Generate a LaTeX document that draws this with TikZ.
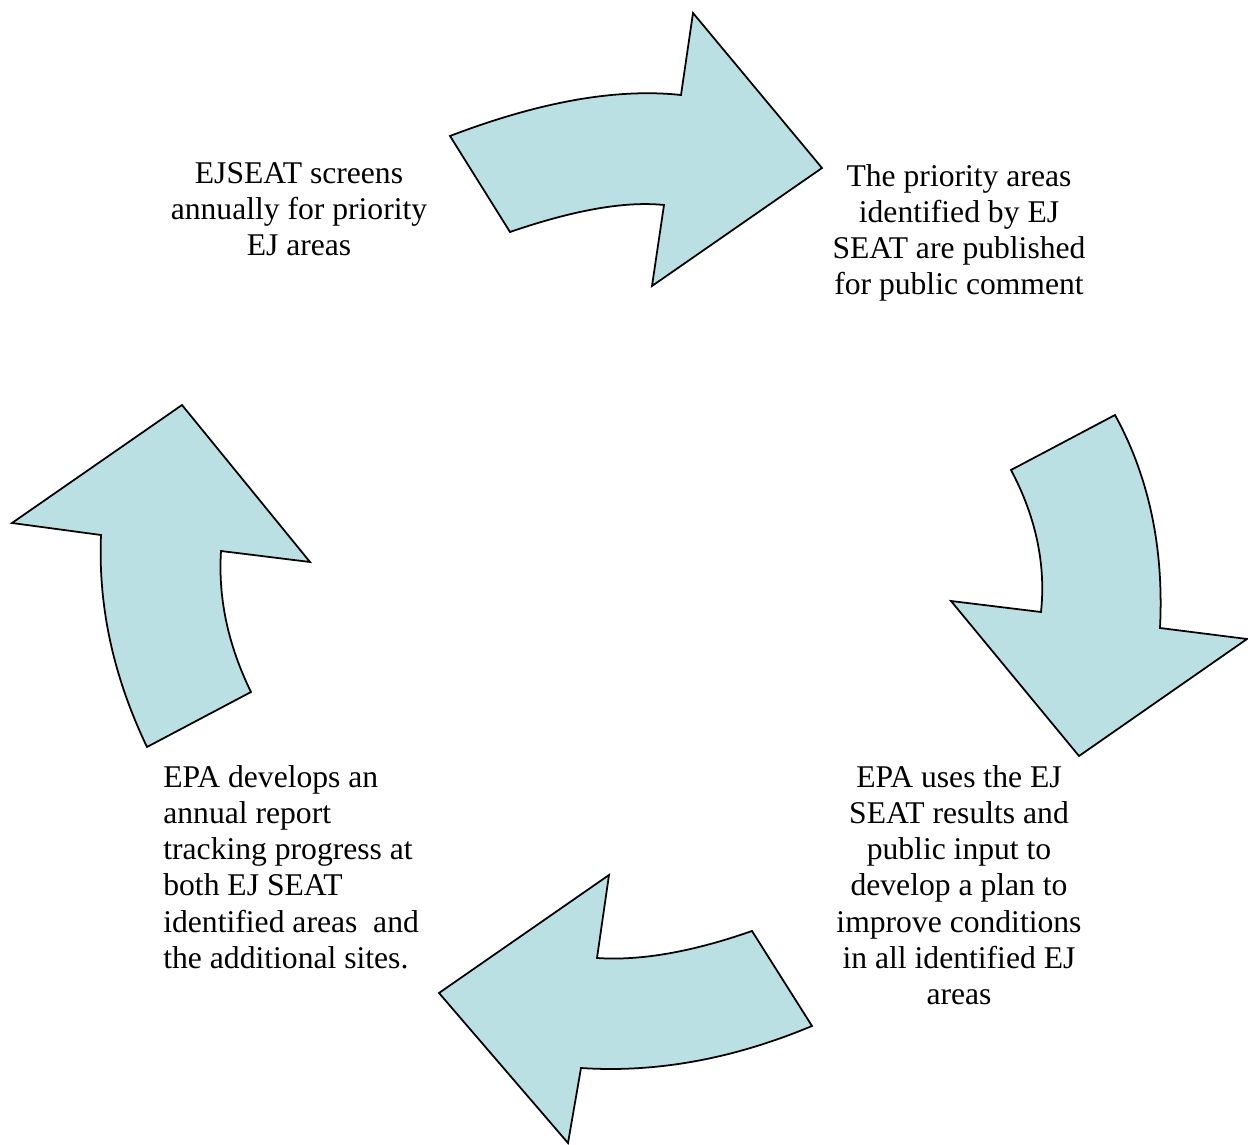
\documentclass[tikz,border=0pt]{standalone}
\usepackage{fontspec}
\setmainfont{Liberation Serif}
\definecolor{paleblue}{RGB}{187,224,227}
\begin{document}
\begin{tikzpicture}[x=0.02cm,y=-0.02cm,
  cyclearrow/.style={fill=paleblue,draw=black,line width=1pt,line join=miter},
  steptext/.style={font=\fontsize{18}{20.6}\selectfont,inner sep=0pt,anchor=north,align=center}]
\useasboundingbox (0,0) rectangle (1248,1145);
% top arrow, pointing right
\filldraw[cyclearrow] (450,136) .. controls (539,102) and (616,88) .. (681,95) -- (693,13) -- (822,168) -- (652,286) -- (664,205) .. controls (625,201) and (574,210) .. (510,232) -- cycle;
% right arrow, pointing down
\filldraw[cyclearrow] (1011,470) -- (1115,415) .. controls (1149,477) and (1164,548) .. (1160,628) -- (1247,639) -- (1079,756) -- (951,601) -- (1041,612) .. controls (1046,565) and (1036,517) .. (1011,470) -- cycle;
% bottom arrow, pointing left
\filldraw[cyclearrow] (812,1026) .. controls (733,1059) and (656,1073) .. (581,1068) -- (568,1143) -- (439,993) -- (609,875) -- (597,958) .. controls (640,961) and (692,952) .. (752,931) -- cycle;
% left arrow, pointing up
\filldraw[cyclearrow] (147,747) .. controls (114,678) and (98,608) .. (101,535) -- (12,523) -- (182,405) -- (310,562) -- (221,551) .. controls (218,598) and (228,645) .. (251,692) -- cycle;
% the four steps
\node[steptext] (screen) at (299,162) {EJSEAT screens\\annually for priority\\EJ areas};
\node[steptext] (publish) at (959,164) {The priority areas\\identified by EJ\\SEAT are published\\for public comment};
\node[steptext] (plan) at (959,765) {EPA uses the EJ\\SEAT results and\\public input to\\develop a plan to\\improve conditions\\in all identified EJ\\areas};
\node[steptext,align=left,anchor=north west] (report) at (163,765) {EPA develops an\\annual report\\tracking progress at\\both EJ SEAT\\identified areas~ and\\the additional sites.};
\end{tikzpicture}
\end{document}
